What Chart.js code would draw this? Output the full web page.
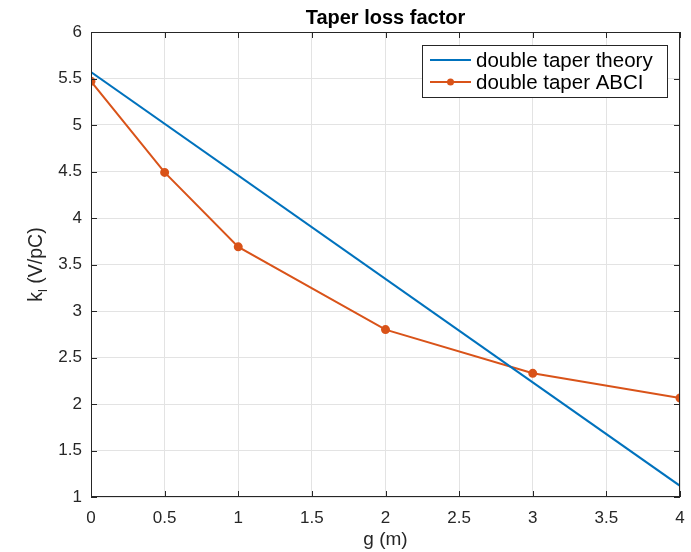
<!DOCTYPE html>
<html>
<head>
<meta charset="utf-8">
<script src="https://cdn.jsdelivr.net/npm/chart.js@4/dist/chart.umd.min.js"></script>
<style>
  html, body { margin: 0; padding: 0; background: #fff; }
  #wrap { width: 691px; height: 552px; }
</style>
</head>
<body>
<div id="wrap"><canvas id="c" width="691" height="552"></canvas></div>
<script>
// data
const gTheory = [0, 4];
const kTheory = [5.57, 1.12];
const gAbci = [0, 0.5, 1, 2, 3, 4];
const kAbci = [5.47, 4.49, 3.69, 2.80, 2.33, 2.065];
const xTicks = [0, 0.5, 1, 1.5, 2, 2.5, 3, 3.5, 4];
const yTicks = [1, 1.5, 2, 2.5, 3, 3.5, 4, 4.5, 5, 5.5, 6];

const FONT = '"Liberation Sans", Arial, Helvetica, sans-serif';
const AXIS = '#262626';
const BLUE = '#0072BD';
const ORANGE = '#D95319';

// inward ticks, box, title, axis labels, legend
const decor = {
  id: 'decor',
  afterDatasetsDraw(chart) {
    const ctx = chart.ctx;
    const a = chart.chartArea;
    const xs = chart.scales.x, ys = chart.scales.y;
    ctx.save();
    ctx.strokeStyle = AXIS;
    ctx.lineWidth = 1;
    ctx.strokeRect(a.left + 0.5, a.top + 0.5, a.right - a.left - 1, a.bottom - a.top - 1);
    ctx.beginPath();
    xTicks.forEach(v => {
      const px = Math.round(xs.getPixelForValue(v)) + 0.5;
      ctx.moveTo(px, a.bottom); ctx.lineTo(px, a.bottom - 6);
      ctx.moveTo(px, a.top); ctx.lineTo(px, a.top + 6);
    });
    yTicks.forEach(v => {
      const py = Math.round(ys.getPixelForValue(v)) + 0.5;
      ctx.moveTo(a.left, py); ctx.lineTo(a.left + 6, py);
      ctx.moveTo(a.right, py); ctx.lineTo(a.right - 6, py);
    });
    ctx.stroke();

    // title
    ctx.fillStyle = '#000';
    ctx.font = 'bold 20px ' + FONT;
    ctx.textAlign = 'center';
    ctx.textBaseline = 'alphabetic';
    ctx.fillText('Taper loss factor', (a.left + a.right) / 2, 24);

    // x label
    ctx.fillStyle = AXIS;
    ctx.font = '19px ' + FONT;
    ctx.fillText('g (m)', (a.left + a.right) / 2, 545);

    // y label with subscript
    ctx.save();
    ctx.translate(42, (a.top + a.bottom) / 2);
    ctx.rotate(-Math.PI / 2);
    ctx.textAlign = 'left';
    const mainFont = '19.5px ' + FONT, subFont = '13px ' + FONT;
    ctx.font = mainFont;
    const wk = ctx.measureText('k').width;
    const wr = ctx.measureText(' (V/pC)').width;
    ctx.font = subFont;
    const wl = ctx.measureText('l').width;
    let x0 = -(wk + wl + wr) / 2;
    ctx.font = mainFont;
    ctx.fillText('k', x0, 0);
    ctx.font = subFont;
    ctx.fillText('l', x0 + wk, 5);
    ctx.font = mainFont;
    ctx.fillText(' (V/pC)', x0 + wk + wl, 0);
    ctx.restore();

    // legend
    const lx = 422, ly = 45, lw = 245, lh = 52;
    ctx.fillStyle = '#fff';
    ctx.fillRect(lx, ly, lw, lh);
    ctx.strokeStyle = '#262626';
    ctx.strokeRect(lx + 0.5, ly + 0.5, lw, lh);
    const items = [[ 'double taper theory', BLUE, false ], [ 'double taper ABCI', ORANGE, true ]];
    ctx.font = '20.5px ' + FONT;
    ctx.textAlign = 'left';
    ctx.textBaseline = 'middle';
    items.forEach((it, i) => {
      const y = ly + 15 + i * 22;
      ctx.strokeStyle = it[1];
      ctx.lineWidth = 2;
      ctx.beginPath(); ctx.moveTo(lx + 8, y); ctx.lineTo(lx + 49, y); ctx.stroke();
      if (it[2]) {
        ctx.fillStyle = it[1];
        ctx.beginPath(); ctx.arc(lx + 28.5, y, 3.5, 0, Math.PI * 2); ctx.fill();
      }
      ctx.fillStyle = '#000';
      ctx.fillText(it[0], lx + 54, y + 1);
    });
    ctx.restore();
  }
};

const fmt = v => String(v);

new Chart(document.getElementById('c').getContext('2d'), {
  type: 'line',
  data: {
    datasets: [
      {
        label: 'double taper theory',
        data: gTheory.map((g, i) => ({ x: g, y: kTheory[i] })),
        borderColor: BLUE, backgroundColor: BLUE,
        borderWidth: 2, pointRadius: 0, tension: 0
      },
      {
        label: 'double taper ABCI',
        data: gAbci.map((g, i) => ({ x: g, y: kAbci[i] })),
        borderColor: ORANGE, backgroundColor: ORANGE,
        borderWidth: 2, pointRadius: 3.5, pointStyle: 'circle', tension: 0
      }
    ]
  },
  options: {
    responsive: false,
    animation: false,
    layout: { padding: { top: 32, right: 0, left: 0, bottom: 0 } },
    plugins: { legend: { display: false }, title: { display: false }, tooltip: { enabled: false } },
    scales: {
      x: {
        type: 'linear', min: 0, max: 4,
        afterBuildTicks: s => { s.ticks = xTicks.map(v => ({ value: v })); },
        afterFit: s => { s.height = 55; s.paddingRight = 11; },
        grid: { color: '#e3e3e3', drawTicks: false },
        border: { display: false },
        ticks: { color: AXIS, font: { family: FONT, size: 17 }, padding: 11, maxRotation: 0, callback: fmt }
      },
      y: {
        type: 'linear', min: 1, max: 6,
        afterBuildTicks: s => { s.ticks = yTicks.map(v => ({ value: v })); },
        afterFit: s => { s.width = 91; },
        grid: { color: '#e3e3e3', drawTicks: false },
        border: { display: false },
        ticks: { color: AXIS, font: { family: FONT, size: 17 }, padding: 9, callback: fmt }
      }
    }
  },
  plugins: [decor]
});
</script>
</body>
</html>
